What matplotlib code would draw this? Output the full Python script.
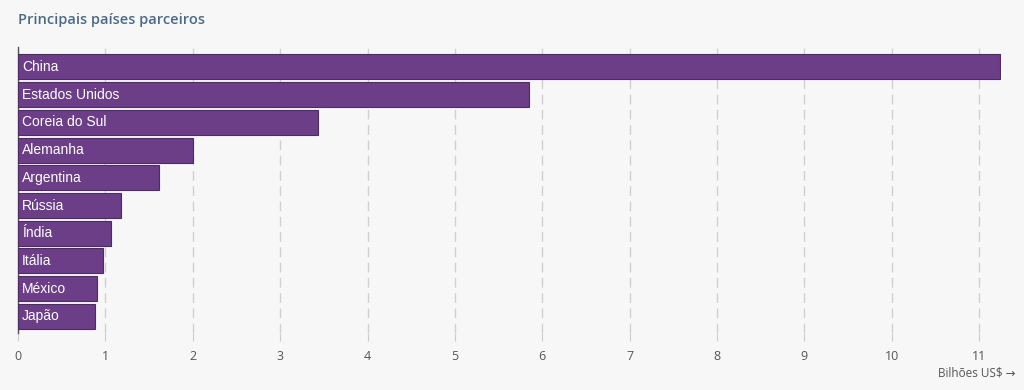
import matplotlib.pyplot as plt
import numpy as np

paises = ['China', 'Estados Unidos', 'Coreia do Sul', 'Alemanha', 'Argentina',
          'Rússia', 'Índia', 'Itália', 'México', 'Japão']
valores = [11.24, 5.85, 3.43, 2.0, 1.61, 1.18, 1.06, 0.97, 0.90, 0.88]
xticks = list(range(0, 12))

bg = '#f7f7f7'
roxo = '#6b3e87'

fig = plt.figure(figsize=(10.24, 3.9), dpi=100, facecolor=bg)
ax = fig.add_axes([18/1024, 57/390, 983/1024, 286/390], facecolor=bg)

y = np.arange(len(paises))
ax.barh(y, valores, height=0.9, color=roxo, edgecolor='#4e2c63', linewidth=0.8, zorder=3)

for i, nome in enumerate(paises):
    ax.text(0.045, i, nome, color='white', va='center', ha='left',
            fontsize=10, family='Liberation Sans', zorder=4)

ax.set_xlim(0, 11.25)
ax.set_ylim(9.6, -0.72)
ax.set_xticks(xticks)
ax.set_yticks([])
ax.grid(axis='x', color='#d0d0d0', linestyle=(0, (7, 4)), linewidth=1, zorder=0)
for s in ['top', 'right', 'bottom']:
    ax.spines[s].set_visible(False)
ax.spines['left'].set_color('#555555')
ax.spines['left'].set_linewidth(1)
ax.tick_params(axis='x', length=6, color='#cccccc', labelcolor='#555555',
               labelsize=9, pad=6)
for lab in ax.get_xticklabels():
    lab.set_family('Open Sans')

fig.text(18/1024, 1 - 20/390, 'Principais países parceiros', fontsize=10.5,
         fontweight='semibold', family='Open Sans', color='#4c6a84', va='center')
fig.text(1015/1024, 1 - 373/390, 'Bilhões US$ →', fontsize=8.5,
         family=['Open Sans', 'DejaVu Sans'], color='#555555', ha='right', va='center')

fig.savefig('out.png', dpi=100, facecolor=bg)
